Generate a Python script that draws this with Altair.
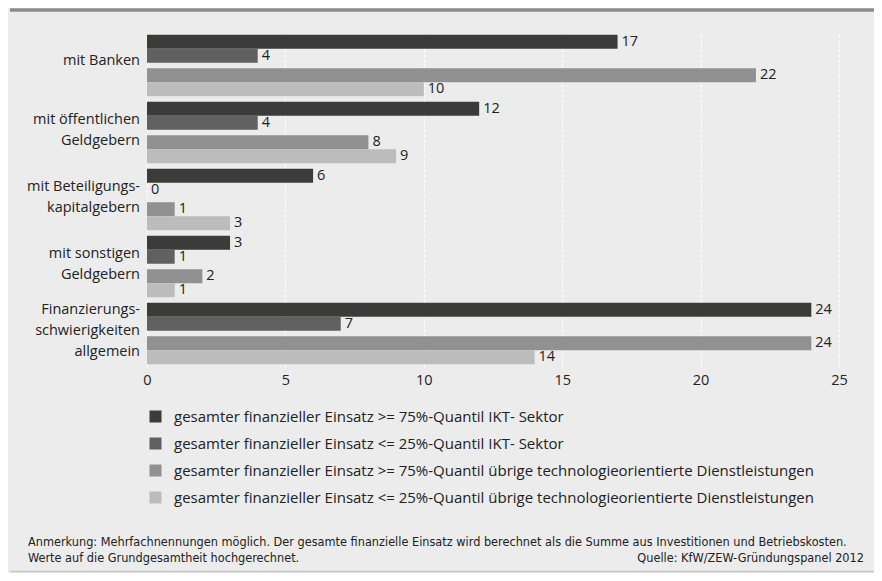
import altair as alt
import pandas as pd

categories = ["mit Banken", "mit öffentlichen\nGeldgebern", "mit Beteiligungs-\nkapitalgebern",
              "mit sonstigen\nGeldgebern", "Finanzierungs-\nschwierigkeiten\nallgemein"]
series_labels = [
    "gesamter finanzieller Einsatz >= 75%-Quantil IKT- Sektor",
    "gesamter finanzieller Einsatz <= 25%-Quantil IKT- Sektor",
    "gesamter finanzieller Einsatz >= 75%-Quantil übrige technologieorientierte Dienstleistungen",
    "gesamter finanzieller Einsatz <= 25%-Quantil übrige technologieorientierte Dienstleistungen",
]
ikt_hi = [17, 12, 6, 3, 24]
ikt_lo = [4, 4, 0, 1, 7]
dl_hi = [22, 8, 1, 2, 24]
dl_lo = [10, 9, 3, 1, 14]
colors = ["#3b3b39", "#606060", "#919191", "#bcbcbc"]
x_ticks = [0, 5, 10, 15, 20, 25]
note_line1 = ("Anmerkung: Mehrfachnennungen möglich. Der gesamte finanzielle Einsatz wird berechnet "
              "als die Summe aus Investitionen und Betriebskosten.")
note_line2 = "Werte auf die Grundgesamtheit hochgerechnet."
source = "Quelle: KfW/ZEW-Gründungspanel 2012"

series_values = [ikt_hi, ikt_lo, dl_hi, dl_lo]
sectors = ["IKT", "IKT", "DL", "DL"]
quants = ["hi", "lo", "hi", "lo"]

rows = []
row_order = []
for i, c in enumerate(categories):
    key = c.replace("\n", " ")
    row_order += [key + "|IKT", key + "|DL"]
    for j in range(4):
        rows.append({"row": key + "|" + sectors[j], "q": quants[j],
                     "series": series_labels[j], "value": series_values[j][i]})
df = pd.DataFrame(rows)
lab_df = pd.DataFrame({"row": [c.replace("\n", " ") + "|IKT" for c in categories],
                       "label": categories,
                       "nlines": [c.count("\n") + 1 for c in categories]})
ann_df = pd.DataFrame({"a": [0]})

W, H = 692, 335
RIGHT = 35
FONT = "Open Sans"
CFONT = "Open Sans"
NFONT = "Liberation Sans Narrow, DejaVu Sans Condensed, Open Sans"
FS = 14.5

yscale = alt.Scale(domain=row_order, paddingInner=0.164, paddingOuter=0.082)
yoff = alt.Scale(domain=["hi", "lo"], paddingInner=0, paddingOuter=0)
xscale = alt.Scale(domain=[0, 25], nice=False)

bars = alt.Chart(df).mark_bar().encode(
    x=alt.X("value:Q", scale=xscale,
            axis=alt.Axis(values=x_ticks, grid=True, gridColor="#ffffff", gridDash=[3, 2],
                          gridWidth=1.2, domain=False, ticks=False, labelFontSize=FS,
                          labelFont=FONT, labelColor="#222222", labelPadding=6,
                          labelFlush=False, title=None)),
    y=alt.Y("row:N", scale=yscale, axis=None, sort=row_order),
    yOffset=alt.YOffset("q:N", scale=yoff),
    color=alt.Color("series:N", scale=alt.Scale(domain=series_labels, range=colors),
                    legend=alt.Legend(title=None, orient="none", legendX=1, legendY=377,
                                      direction="vertical", symbolType="square",
                                      symbolSize=144, symbolStrokeWidth=0,
                                      labelFont=CFONT, labelFontSize=15, labelColor="#222222",
                                      labelOffset=11, rowPadding=11, labelLimit=900)),
)

values = alt.Chart(df).mark_text(align="left", baseline="middle", dx=4, fontSize=FS,
                                 font=FONT, color="#222222").encode(
    x=alt.X("value:Q", scale=xscale),
    y=alt.Y("row:N", scale=yscale, sort=row_order),
    yOffset=alt.YOffset("q:N", scale=yoff),
    text="value:Q",
)

label_dy = {1: 12, 2: 4, 3: -7}
label_layers = []
for n, dy in label_dy.items():
    label_layers.append(
        alt.Chart(lab_df[lab_df["nlines"] == n]).mark_text(
            align="right", baseline="middle", dy=dy, fontSize=FS, font=FONT,
            color="#222222", lineBreak="\n", lineHeight=21).encode(
            x=alt.value(-7),
            y=alt.Y("row:N", scale=yscale, sort=row_order),
            text="label:N",
        )
    )

top_band = alt.Chart(ann_df).mark_rule(color="#8c8c8c", strokeWidth=3.5).encode(
    x=alt.value(-137), x2=alt.value(W + RIGHT), y=alt.value(-22))
bottom_line = alt.Chart(ann_df).mark_rule(color="#c4c4c4", strokeWidth=1.5).encode(
    x=alt.value(-137), x2=alt.value(W + RIGHT), y=alt.value(539.5))

note1 = alt.Chart(ann_df).mark_text(align="left", baseline="middle", fontSize=12.6,
                                    font=NFONT, color="#222222").encode(
    x=alt.value(-119), y=alt.value(510), text=alt.value(note_line1))
note2 = alt.Chart(ann_df).mark_text(align="left", baseline="middle", fontSize=12.6,
                                    font=NFONT, color="#222222").encode(
    x=alt.value(-119), y=alt.value(526), text=alt.value(note_line2))
src = alt.Chart(ann_df).mark_text(align="right", baseline="middle", fontSize=12.6,
                                  font=NFONT, color="#222222").encode(
    x=alt.value(717), y=alt.value(526), text=alt.value(source))

chart = alt.layer(bars, values, *label_layers, top_band, bottom_line, note1, note2, src).properties(
    width=W, height=H,
    autosize=alt.AutoSizeParams(type="none"),
    padding={"left": 139, "top": 24, "right": RIGHT, "bottom": 206},
    background="#ececec",
).configure_view(stroke=None)

chart.save("out.html", embed_options={"renderer": "svg", "actions": False})
